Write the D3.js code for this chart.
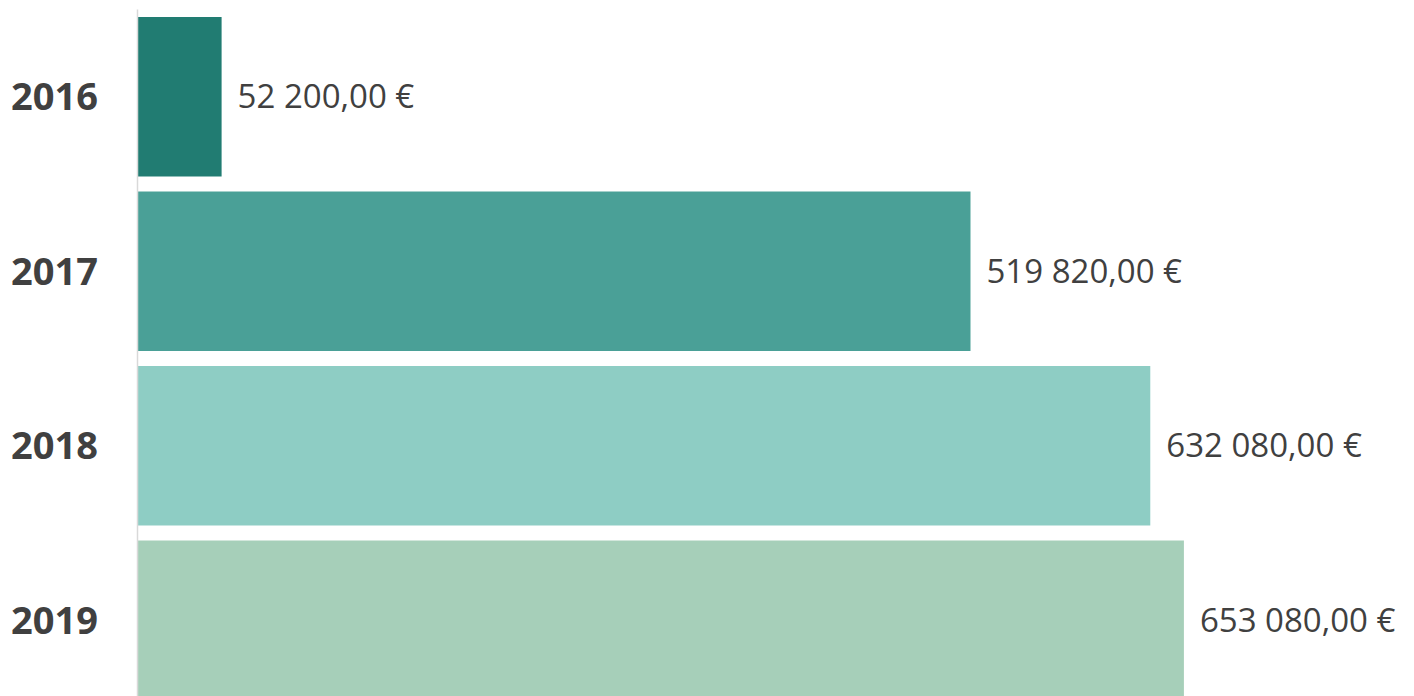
<!DOCTYPE html>
<meta charset="utf-8">
<style>
body, html {
  padding: 0;
  margin: 0;
  background: #fff;
}
.year {
  font: bold 38px "Open Sans", sans-serif;
  fill: #404040;
}
.value {
  font: 33px "Open Sans", sans-serif;
  fill: #404040;
}
</style>
<body>
<script src="https://d3js.org/d3.v7.min.js"></script>
<script>

var years = ["2016", "2017", "2018", "2019"],
    amounts = [52200, 519820, 632080, 653080],
    colors = ["#217c72", "#4aa097", "#8ecdc4", "#a6cfb9"]

var width = 1414,
    height = 696

var svg = d3.select("body").append("svg")
    .attr("width", width)
    .attr("height", height)

var x = d3.scaleLinear()
    .domain([0, 800000])
    .range([138, 138 + 1281.2])

var y = d3.scaleBand()
    .domain(years)
    .range([9.5, 707.5])
    .paddingInner(0.086)
    .paddingOuter(0.043)

var fmt = function (v) {
    var s = d3.format(",.2f")(v)
    return s.replace(/,/g, " ").replace(".", ",") + " €"
}

var data = years.map(function (d, i) {
    return {year: d, value: amounts[i], color: colors[i]}
})

svg.selectAll("rect.bar")
    .data(data)
    .enter().append("rect")
    .attr("class", "bar")
    .attr("x", x(0))
    .attr("y", function (d) { return y(d.year) })
    .attr("width", function (d) { return x(d.value) - x(0) })
    .attr("height", y.bandwidth())
    .attr("fill", function (d) { return d.color })

// axis line
svg.append("line")
    .attr("x1", x(0) - 0.5)
    .attr("x2", x(0) - 0.5)
    .attr("y1", 9.5)
    .attr("y2", height)
    .attr("stroke", "#d9d9d9")
    .attr("stroke-width", 1.5)

svg.selectAll("text.year")
    .data(data)
    .enter().append("text")
    .attr("class", "year")
    .attr("x", 98)
    .attr("y", function (d) { return y(d.year) + y.bandwidth() / 2 })
    .attr("dy", "0.35em")
    .attr("text-anchor", "end")
    .text(function (d) { return d.year })

svg.selectAll("text.value")
    .data(data)
    .enter().append("text")
    .attr("class", "value")
    .attr("x", function (d) { return x(d.value) + 16 })
    .attr("y", function (d) { return y(d.year) + y.bandwidth() / 2 })
    .attr("dy", "0.35em")
    .text(function (d) { return fmt(d.value) })

</script>
</body>
